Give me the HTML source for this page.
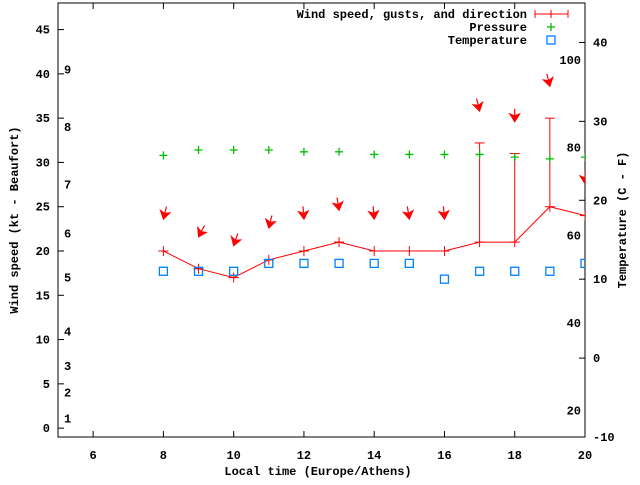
<!DOCTYPE html>
<html><head><meta charset="utf-8"><style>
body{margin:0;background:#fff}
svg text{font-family:"Liberation Mono",monospace;font-size:12px;font-weight:bold;fill:#000}
</style></head><body>
<svg id="c" width="640" height="480" xmlns="http://www.w3.org/2000/svg"></svg>
<script>
const hours=[8,9,10,11,12,13,14,15,16,17,18,19,20];
const windSpeed=[20,18,17,19,20,21,20,20,20,21,21,25,24];
const gusts=[20,18,17,19,20,21,20,20,20,32.2,31,35,24];
const windDir=[15,30,20,15,-5,-10,-5,-10,-5,-15,0,-15,0];
const pressure=[30.8,31.4,31.4,31.4,31.2,31.2,30.9,30.9,30.9,30.9,30.6,30.4,30.6];
const temperature=[11,11,11,12,12,12,12,12,10,11,11,11,12];
const xTicks=[6,8,10,12,14,16,18,20];
const yTicks=[0,5,10,15,20,25,30,35,40,45];
const y2Ticks=[-10,0,10,20,30,40];
const beaufortLabels=["1","2","3","4","5","6","7","8","9"];
const beaufortAt=[1.1,4,7,10.9,17,22,27.5,34,40.5];
const fLabels=["20","40","60","80","100"];
const fAt=[20,40,60,80,100];

const L=58,R=585,T=3,B=437;
const X=v=>L+(v-5)*(R-L)/15;
const Y=v=>B-(v+1)*(B-T)/49;
const Y2=c=>B-(c+10)*(B-T)/55;
const svg=document.getElementById('c');
const NS='http://www.w3.org/2000/svg';
function mk(tag,attrs,name,parent){const e=document.createElementNS(NS,tag);for(const k in attrs)e.setAttribute(k,attrs[k]);


(parent||svg).appendChild(e);return e;}
function txt(x,y,s,anchor,name){const t=mk('text',{x:x,y:y,'text-anchor':anchor||'middle'},name);t.textContent=s;return t;}

mk('rect',{x:L,y:T,width:R-L,height:B-T,fill:'none',stroke:'#000','stroke-width':1},'plot-frame');
xTicks.forEach(v=>{const x=X(v);
 mk('line',{x1:x,y1:B,x2:x,y2:B-6,stroke:'#000'},'x-tick');
 mk('line',{x1:x,y1:T,x2:x,y2:T+6,stroke:'#000'},'x-tick-top');
 txt(x,459,String(v),'middle','x-tick-label');});
yTicks.forEach(v=>{const y=Y(v);
 mk('line',{x1:L,y1:y,x2:L+6,y2:y,stroke:'#000'},'y-tick');
 txt(50,y+4,String(v),'end','y-tick-label');});
y2Ticks.forEach(v=>{const y=Y2(v);
 mk('line',{x1:R,y1:y,x2:R-6,y2:y,stroke:'#000'},'y2-tick');
 txt(593,y+4,String(v),'start','y2-tick-label');});
beaufortLabels.forEach((s,i)=>txt(64,Y(beaufortAt[i])+4,s,'start','beaufort-label'));
fLabels.forEach((s,i)=>txt(581,Y2((fAt[i]-32)*5/9)+4,s,'end','fahrenheit-label'));

txt(318,475,'Local time (Europe/Athens)','middle','x-axis-title');
const yt=txt(0,0,'Wind speed (kt - Beaufort)','middle','y-axis-title');yt.setAttribute('transform','translate(18,220) rotate(-90)');
const y2t=txt(0,0,'Temperature (C - F)','middle','y2-axis-title');y2t.setAttribute('transform','translate(626,220) rotate(-90)');

const defs=mk('defs',{},'defs');const cp=mk('clipPath',{id:'pc'},'clip',defs);mk('rect',{x:L,y:T,width:R-L,height:B-T},'clip-rect',cp);
const g=mk('g',{'clip-path':'url(#pc)'},'series-group');

mk('polyline',{points:hours.map((h,i)=>X(h)+','+Y(windSpeed[i])).join(' '),fill:'none',stroke:'#f00','stroke-width':1},'wind-speed-line',g);
hours.forEach((h,i)=>{const x=X(h),y=Y(windSpeed[i]),yg=Y(gusts[i]);
 mk('line',{x1:x,y1:y+5,x2:x,y2:Math.min(y-5,yg),stroke:'#f00'},'gust-bar',g);
 mk('line',{x1:x-5,y1:y,x2:x+5,y2:y,stroke:'#f00'},'wind-cap',g);
 mk('line',{x1:x-5,y1:yg,x2:x+5,y2:yg,stroke:'#f00'},'gust-cap',g);
 const hy=Y(Math.max(windSpeed[i],gusts[i])+3.7),a=windDir[i]*Math.PI/180,len=12;
 const tx=x+Math.sin(a)*len,ty=hy-Math.cos(a)*len;
 mk('line',{x1:tx,y1:ty,x2:x,y2:hy,stroke:'#f00','stroke-width':1.2},'wind-direction-arrow',g);
 const ux=Math.sin(a),uy=-Math.cos(a),px=-uy,py=ux;
 mk('polygon',{points:`${x},${hy+1} ${x+ux*7+px*5},${hy+uy*7+py*5} ${x+ux*5},${hy+uy*5} ${x+ux*7-px*5},${hy+uy*7-py*5}`,fill:'#f00',stroke:'#f00','stroke-width':1},'arrow-head',g);
});
hours.forEach((h,i)=>{const x=X(h),y=Y(pressure[i]);
 mk('path',{d:`M${x-4},${y}H${x+4}M${x},${y-4}V${y+4}`,stroke:'#00c000','stroke-width':1.3},'pressure-point',g);});
hours.forEach((h,i)=>{const x=X(h),y=Y2(temperature[i]);
 mk('rect',{x:x-4,y:y-4,width:8,height:8,fill:'none',stroke:'#0080ff','stroke-width':1.3},'temperature-point',g);});

txt(527,18,'Wind speed, gusts, and direction','end','legend-wind-label');
mk('path',{d:'M535,14H568M535,10V18M568,10V18M551,10V18',stroke:'#f00'},'legend-wind-sample');
txt(527,31,'Pressure','end','legend-pressure-label');
mk('path',{d:'M547,27H555M551,23V31',stroke:'#00c000','stroke-width':1.3},'legend-pressure-sample');
txt(527,44,'Temperature','end','legend-temperature-label');
mk('rect',{x:547,y:36,width:8,height:8,fill:'none',stroke:'#0080ff','stroke-width':1.3},'legend-temperature-sample');
</script>
</body></html>
